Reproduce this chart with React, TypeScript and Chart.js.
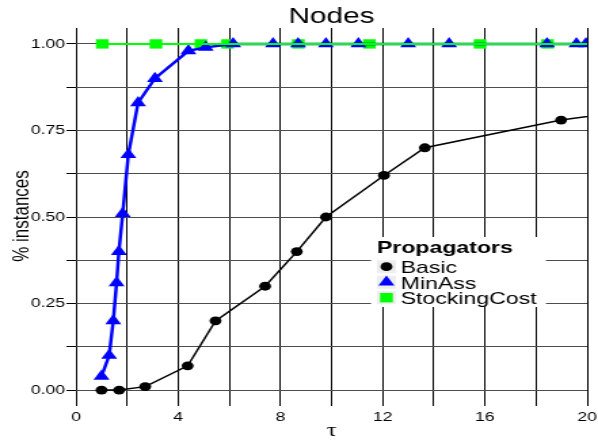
import React, { useEffect, useRef } from 'react';
import { Chart, registerables } from 'chart.js';

Chart.register(...registerables);

const chartTitle = 'Nodes';
const xTitle = 'τ';
const yTitle = '% instances';
const legendTitle = 'Propagators';
const seriesNames = ['Basic', 'MinAss', 'StockingCost'];

const basicX = [1.0, 1.69, 2.71, 4.37, 5.46, 7.4, 8.64, 9.78, 12.05, 13.65, 18.98, 21];
const basicY = [0, 0, 0.01, 0.07, 0.2, 0.3, 0.4, 0.5, 0.62, 0.7, 0.78, 0.8];
const minAssX = [1.0, 1.3, 1.46, 1.59, 1.68, 1.83, 2.05, 2.43, 3.09, 4.4, 5.08, 6.15, 7.71, 8.69, 9.78, 11.05, 13.0, 14.6, 18.43, 19.58, 19.95];
const minAssY = [0.04, 0.1, 0.2, 0.31, 0.4, 0.51, 0.68, 0.83, 0.9, 0.98, 0.99, 1, 1, 1, 1, 1, 1, 1, 1, 1, 1];
const stockX = [1.03, 3.13, 4.89, 5.93, 8.7, 11.48, 15.81, 18.45, 21];
const stockY = [1, 1, 1, 1, 1, 1, 1, 1, 1];

const xTickValues = [0, 2, 4, 6, 8, 10, 12, 14, 16, 18, 20];
const xLabelStep = 4;
const yTickValues = [0, 0.125, 0.25, 0.375, 0.5, 0.625, 0.75, 0.875, 1];
const yLabelStep = 0.25;

const FONT = '"Liberation Sans", Arial, Helvetica, sans-serif';
const BLACK = '#000000';
const BLUE = '#0000ff';
const GREEN = '#00ff00';

const pts = (xs: number[], ys: number[]) => xs.map((x, i) => ({ x, y: ys[i] }));

const textPlugin = {
  id: 'customText',
  afterDraw(chart: any) {
    const { ctx, chartArea } = chart;
    const cx = (chartArea.left + chartArea.right) / 2;
    ctx.save();
    ctx.fillStyle = BLACK;
    // title
    ctx.textAlign = 'center';
    ctx.textBaseline = 'middle';
    ctx.font = `22px ${FONT}`;
    ctx.fillText(chartTitle, cx, 17);
    // x title
    ctx.font = `18px "Liberation Serif", "DejaVu Serif", serif`;
    ctx.fillText(xTitle, cx, 431);
    // y title
    ctx.save();
    ctx.translate(16.5, 216);
    ctx.rotate(-Math.PI / 2);
    ctx.font = `17px ${FONT}`;
    ctx.fillText(yTitle, 0, 0);
    ctx.restore();

    // legend
    const lx = 273.6, ly = 237, lw = 129, lh = 70;
    ctx.fillStyle = '#ffffff';
    ctx.fillRect(lx, ly, lw, lh);
    ctx.fillStyle = BLACK;
    ctx.textAlign = 'left';
    ctx.textBaseline = 'alphabetic';
    ctx.font = `bold 17px ${FONT}`;
    ctx.fillText(legendTitle, 278, 253);
    const baselines = [273, 288.5, 304];
    const mx = 285;
    ctx.font = `17px ${FONT}`;
    seriesNames.forEach((name, i) => {
      const by = baselines[i];
      const my = by - 6.3;
      ctx.fillStyle = '#eeeeee';
      ctx.fillRect(mx - 7, my - 6.5, 14, 13);
      if (i === 0) {
        ctx.fillStyle = BLACK;
        ctx.beginPath();
        ctx.arc(mx, my, 4.4, 0, Math.PI * 2);
        ctx.fill();
      } else if (i === 1) {
        const r = 6.8;
        ctx.fillStyle = BLUE;
        ctx.beginPath();
        ctx.moveTo(mx, my - r);
        ctx.lineTo(mx + r * Math.sqrt(3) / 2, my + r / 2);
        ctx.lineTo(mx - r * Math.sqrt(3) / 2, my + r / 2);
        ctx.closePath();
        ctx.fill();
      } else {
        ctx.fillStyle = GREEN;
        ctx.fillRect(mx - 4.7, my - 4.7, 9.4, 9.4);
      }
      ctx.fillStyle = BLACK;
      ctx.fillText(name, 295.5, by);
    });
    ctx.restore();
  },
};

export default function App() {
  const canvasRef = useRef<HTMLCanvasElement>(null);

  useEffect(() => {
    document.body.style.margin = '0';
    const canvas = canvasRef.current;
    if (!canvas) return;
    const chart = new Chart(canvas, {
      type: 'scatter',
      data: {
        datasets: [
          {
            label: 'StockingCost line',
            data: pts(stockX, stockY),
            showLine: true,
            borderColor: GREEN,
            borderWidth: 2,
            pointRadius: 0,
            pointHoverRadius: 0,
          },
          {
            label: seriesNames[1],
            data: pts(minAssX, minAssY),
            showLine: true,
            borderColor: BLUE,
            backgroundColor: BLUE,
            borderWidth: 2.5,
            pointStyle: 'triangle',
            pointRadius: 6.8,
            pointBorderWidth: 0,
            pointBackgroundColor: BLUE,
          },
          {
            label: seriesNames[2],
            data: pts(stockX, stockY),
            showLine: false,
            pointStyle: 'rect',
            pointRadius: 6.6,
            pointBorderWidth: 0,
            pointBackgroundColor: GREEN,
            backgroundColor: GREEN,
          },
          {
            label: seriesNames[0],
            data: pts(basicX, basicY),
            showLine: true,
            borderColor: BLACK,
            backgroundColor: BLACK,
            borderWidth: 1.5,
            pointStyle: 'circle',
            pointRadius: 4.4,
            pointBorderWidth: 0,
            pointBackgroundColor: BLACK,
          },
        ],
      },
      options: {
        responsive: false,
        devicePixelRatio: 1,
        animation: false,
        events: [],
        layout: { padding: { top: 28, right: 8, left: 0, bottom: 0 } },
        plugins: {
          legend: { display: false },
          title: { display: false },
          tooltip: { enabled: false },
        },
        scales: {
          x: {
            type: 'linear',
            min: 0,
            max: 20,
            afterBuildTicks: (scale: any) => {
              scale.ticks = xTickValues.map((v) => ({ value: v }));
            },
            afterFit: (scale: any) => {
              scale.height = 35;
              scale.paddingLeft = 0;
              scale.paddingRight = 0;
            },
            grid: { color: BLACK, lineWidth: 1, drawTicks: false },
            border: { display: false },
            ticks: {
              autoSkip: false,
              maxRotation: 0,
              padding: 4,
              color: BLACK,
              font: { family: FONT, size: 13 },
              callback: (v: any) => (Number(v) % xLabelStep === 0 ? String(v) : ''),
            },
          },
          y: {
            type: 'linear',
            min: -0.046,
            max: 1.046,
            afterBuildTicks: (scale: any) => {
              scale.ticks = yTickValues.map((v) => ({ value: v }));
            },
            afterFit: (scale: any) => {
              scale.width = 56;
              scale.paddingTop = 0;
              scale.paddingBottom = 0;
            },
            grid: { color: '#4d4d4d', lineWidth: 1, drawTicks: true, tickLength: 7, tickColor: BLACK },
            border: { display: false },
            ticks: {
              autoSkip: false,
              padding: 1,
              color: BLACK,
              font: { family: FONT, size: 13 },
              callback: (v: any) => {
                const q = Number(v) / yLabelStep;
                return Math.abs(q - Math.round(q)) < 1e-9 ? Number(v).toFixed(2) : '';
              },
            },
          },
        },
      },
      plugins: [textPlugin],
    });
    return () => chart.destroy();
  }, []);

  return (
    <div style={{ width: 598, height: 441 }}>
      <canvas
        ref={canvasRef}
        width={441}
        height={441}
        style={{ width: '598px', height: '441px', display: 'block' }}
      />
    </div>
  );
}
